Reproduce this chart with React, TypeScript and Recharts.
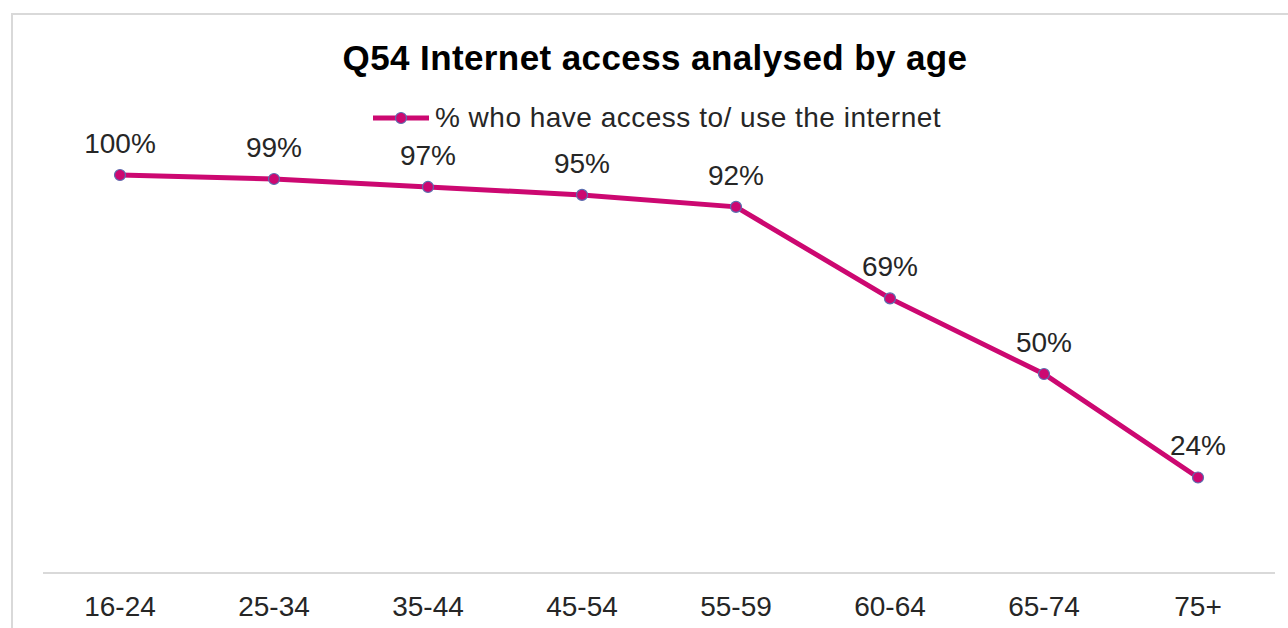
import React from 'react';
import { LineChart, Line, XAxis, YAxis, LabelList, Legend } from 'recharts';

const ageGroups = ['16-24', '25-34', '35-44', '45-54', '55-59', '60-64', '65-74', '75+'];
const accessPct = [100, 99, 97, 95, 92, 69, 50, 24];
const seriesName = '% who have access to/ use the internet';
const chartTitle = 'Q54 Internet access analysed by age';

const data = ageGroups.map((g, i) => ({ age: g, value: accessPct[i] }));

const LINE = '#CC0871';
const FONT = '"Liberation Sans", Arial, sans-serif';

const LegendContent = () => (
  <div style={{ display: 'flex', justifyContent: 'center', alignItems: 'center', fontFamily: FONT, height: 30 }}>
    <svg width={60} height={20} style={{ marginRight: 4 }}>
      <line x1={2} y1={10} x2={58} y2={10} stroke={LINE} strokeWidth={5} />
      <circle cx={30} cy={10} r={5.5} fill={LINE} stroke="#5B6FB0" strokeWidth={1.2} />
    </svg>
    <span style={{ fontSize: 28, color: '#262626', letterSpacing: 0.5 }}>{seriesName}</span>
  </div>
);

export default function App() {
  return (
    <div style={{ position: 'absolute', left: 0, top: 0, width: 1288, height: 628, background: '#fff', overflow: 'hidden' }}>
      <div style={{ position: 'absolute', left: 11, top: 13, width: 1400, height: 700, borderLeft: '2px solid #d9d9d9', borderTop: '2px solid #d9d9d9' }} />
      <div style={{ position: 'absolute', left: 0, top: 38, width: 1310, textAlign: 'center', fontFamily: FONT, fontWeight: 'bold', fontSize: 35, color: '#000', letterSpacing: 0.4 }}>
        {chartTitle}
      </div>
      <div style={{ position: 'absolute', left: 0, top: 0 }}>
        <LineChart width={1288} height={628} data={data} margin={{ top: 145, right: 13, bottom: 0, left: 43 }}>
          <XAxis
            dataKey="age"
            height={55}
            padding={{ left: 77, right: 77 }}
            tickLine={false}
            axisLine={{ stroke: '#d9d9d9', strokeWidth: 2 }}
            tickMargin={17}
            tick={{ fontSize: 28, fill: '#262626', fontFamily: FONT }}
            interval={0}
          />
          <YAxis hide domain={[0, 100]} />
          <Legend
            verticalAlign="top"
            height={30}
            content={<LegendContent />}
            wrapperStyle={{ position: 'absolute', top: 103, left: 0, width: 1312 }}
          />
          <Line
            name={seriesName}
            dataKey="value"
            stroke={LINE}
            strokeWidth={5}
            isAnimationActive={false}
            dot={{ r: 5.5, fill: LINE, stroke: '#5B6FB0', strokeWidth: 1.2 }}
            activeDot={false}
          >
            <LabelList
              dataKey="value"
              position="top"
              offset={22}
              formatter={(v: number) => `${v}%`}
              style={{ fontSize: 28, fill: '#262626', fontFamily: FONT }}
            />
          </Line>
        </LineChart>
      </div>
    </div>
  );
}
